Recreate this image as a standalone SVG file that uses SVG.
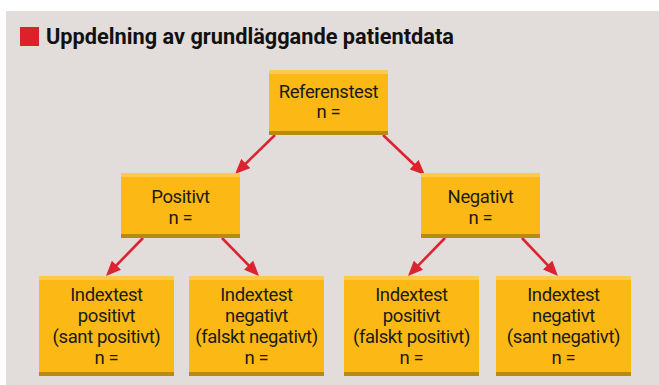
<svg xmlns="http://www.w3.org/2000/svg" width="659" height="385" viewBox="0 0 659 385">
<style>
.box{fill:#FCB915}
.top{fill:#FDC94F}
.bot{fill:#B98A12}
.t{font-family:Roboto,"Liberation Sans",sans-serif;font-size:18.5px;letter-spacing:-0.4px;fill:#1a1a1a;text-anchor:middle}
.title{font-family:Roboto,"Liberation Sans",sans-serif;font-size:22px;font-weight:bold;fill:#111}
.c{stroke:#DC2430;stroke-width:2.6;fill:none;marker-end:url(#ah)}
</style>
<defs>
<marker id="ah" markerUnits="userSpaceOnUse" markerWidth="15" markerHeight="13" viewBox="0 0 15 13" refX="11" refY="6.5" orient="auto">
<path d="M0,0 L15,6.5 L0,13 z" fill="#DC2430"/>
</marker>
</defs>
<rect x="0" y="0" width="659" height="385" fill="#ffffff"/>
<rect x="6" y="11" width="653" height="374" fill="#E2DDDB"/>
<g id="title">
<rect x="20" y="27" width="19" height="19" fill="#DC2128"/>
<text class="title" x="46" y="43.5" textLength="408" lengthAdjust="spacingAndGlyphs">Uppdelning av grundläggande patientdata</text>
</g>
<g id="connectors">
<line class="c" x1="275" y1="135" x2="237.9" y2="171.2"/>
<line class="c" x1="383" y1="135" x2="422.1" y2="172.2"/>
<line class="c" x1="143" y1="238" x2="108.8" y2="273.1"/>
<line class="c" x1="222" y1="238" x2="256.2" y2="273.1"/>
<line class="c" x1="445" y1="238" x2="410.8" y2="273.1"/>
<line class="c" x1="522" y1="238" x2="555.2" y2="273.1"/>
</g>
<g id="referenstest">
<rect class="box" x="269" y="70" width="119" height="65"/>
<rect class="top" x="269" y="70" width="119" height="4"/>
<rect class="bot" x="269" y="131" width="119" height="4"/>
<text class="t" x="328.5" y="98">Referenstest</text>
<text class="t" x="328.5" y="118">n =</text>
</g>
<g id="positivt">
<rect class="box" x="121" y="173" width="119" height="65"/>
<rect class="top" x="121" y="173" width="119" height="4"/>
<rect class="bot" x="121" y="234" width="119" height="4"/>
<text class="t" x="180.5" y="203">Positivt</text>
<text class="t" x="180.5" y="224">n =</text>
</g>
<g id="negativt">
<rect class="box" x="421" y="173" width="119" height="65"/>
<rect class="top" x="421" y="173" width="119" height="4"/>
<rect class="bot" x="421" y="234" width="119" height="4"/>
<text class="t" x="480.5" y="203">Negativt</text>
<text class="t" x="480.5" y="224">n =</text>
</g>
<g id="sant-positivt">
<rect class="box" x="39" y="276" width="135" height="100"/>
<rect class="top" x="39" y="276" width="135" height="4"/>
<rect class="bot" x="39" y="372" width="135" height="4"/>
<text class="t" x="106.5" y="301">Indextest</text>
<text class="t" x="106.5" y="322">positivt</text>
<text class="t" x="106.5" y="343">(sant positivt)</text>
<text class="t" x="106.5" y="364">n =</text>
</g>
<g id="falskt-negativt">
<rect class="box" x="189" y="276" width="135" height="100"/>
<rect class="top" x="189" y="276" width="135" height="4"/>
<rect class="bot" x="189" y="372" width="135" height="4"/>
<text class="t" x="256.5" y="301">Indextest</text>
<text class="t" x="256.5" y="322">negativt</text>
<text class="t" x="256.5" y="343">(falskt negativt)</text>
<text class="t" x="256.5" y="364">n =</text>
</g>
<g id="falskt-positivt">
<rect class="box" x="344" y="276" width="135" height="100"/>
<rect class="top" x="344" y="276" width="135" height="4"/>
<rect class="bot" x="344" y="372" width="135" height="4"/>
<text class="t" x="411.5" y="301">Indextest</text>
<text class="t" x="411.5" y="322">positivt</text>
<text class="t" x="411.5" y="343">(falskt positivt)</text>
<text class="t" x="411.5" y="364">n =</text>
</g>
<g id="sant-negativt">
<rect class="box" x="496" y="276" width="135" height="100"/>
<rect class="top" x="496" y="276" width="135" height="4"/>
<rect class="bot" x="496" y="372" width="135" height="4"/>
<text class="t" x="563.5" y="301">Indextest</text>
<text class="t" x="563.5" y="322">negativt</text>
<text class="t" x="563.5" y="343">(sant negativt)</text>
<text class="t" x="563.5" y="364">n =</text>
</g>
</svg>
